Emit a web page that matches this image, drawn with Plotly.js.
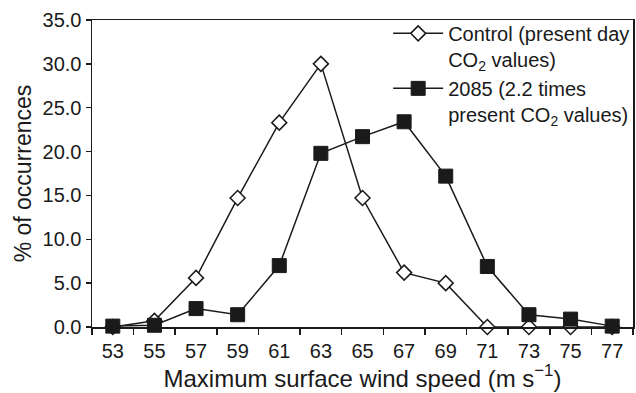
<!DOCTYPE html>
<html>
<head>
<meta charset="utf-8">
<script src="https://cdn.plot.ly/plotly-3.0.1.min.js"></script>
<style>html,body{margin:0;padding:0;background:#fff;}#chart{width:636px;height:393px;}</style>
</head>
<body>
<div id="chart"></div>
<script>
var windSpeed = [53, 55, 57, 59, 61, 63, 65, 67, 69, 71, 73, 75, 77];
var controlPct = [0.0, 0.7, 5.6, 14.7, 23.3, 30.0, 14.7, 6.2, 5.0, 0.0, 0.0, 0.0, 0.0];
var future2085Pct = [0.1, 0.2, 2.1, 1.4, 7.0, 19.8, 21.7, 23.4, 17.2, 6.9, 1.4, 0.9, 0.1];
var xTickVals = [53, 55, 57, 59, 61, 63, 65, 67, 69, 71, 73, 75, 77];
var yTickVals = [0, 5, 10, 15, 20, 25, 30, 35];

var fontFam = 'Liberation Sans, Arial, Helvetica, sans-serif';

var traces = [
  {
    x: windSpeed, y: controlPct, type: 'scatter', mode: 'lines+markers',
    name: 'Control (present day<br>CO<sub>2</sub> values)',
    line: {color: '#1a1a1a', width: 1.5},
    marker: {symbol: 'diamond', size: 11.5, color: '#ffffff', line: {color: '#1a1a1a', width: 1.5}},
    cliponaxis: false
  },
  {
    x: windSpeed, y: future2085Pct, type: 'scatter', mode: 'lines+markers',
    name: '2085 (2.2 times<br>present CO<sub>2</sub> values)',
    line: {color: '#1a1a1a', width: 1.5},
    marker: {symbol: 'square', size: 14, color: '#1a1a1a', line: {color: '#1a1a1a', width: 1}},
    cliponaxis: false
  }
];

var layout = {
  width: 636, height: 393,
  margin: {l: 92, r: 1, t: 20, b: 66},
  paper_bgcolor: '#ffffff', plot_bgcolor: '#ffffff',
  font: {family: fontFam, size: 19, color: '#1a1a1a'},
  showlegend: true,
  legend: {
    x: 1.004, xanchor: 'right', y: 1.02, yanchor: 'top',
    font: {family: fontFam, size: 20, color: '#1a1a1a'},
    bgcolor: 'rgba(255,255,255,0)', borderwidth: 0,
    valign: 'top', tracegroupgap: 3, itemwidth: 50
  },
  xaxis: {
    range: [52, 78],
    tickmode: 'array', tickvals: xTickVals, ticktext: xTickVals.map(String),
    ticks: 'outside', ticklen: 5, tickcolor: 'rgba(0,0,0,0)', showgrid: false, zeroline: false,
    showline: true, linecolor: '#1a1a1a', linewidth: 1.5, mirror: true,
    tickfont: {family: fontFam, size: 20, color: '#1a1a1a'},
    minor: {ticks: 'outside', tick0: 52, dtick: 2, ticklen: 6, tickwidth: 1.5, tickcolor: '#1a1a1a', showgrid: false},
    title: {text: 'Maximum surface wind speed (m s<sup>\u22121</sup>)', font: {family: fontFam, size: 24, color: '#1a1a1a'}, standoff: 3}
  },
  yaxis: {
    range: [0, 35],
    tickmode: 'array', tickvals: yTickVals, ticktext: yTickVals.map(function(v){return v.toFixed(1);}),
    ticks: 'outside', ticklen: 5, tickwidth: 1.5, tickcolor: '#1a1a1a',
    showgrid: false, zeroline: false,
    showline: true, linecolor: '#1a1a1a', linewidth: 1.5, mirror: true,
    tickfont: {family: fontFam, size: 20, color: '#1a1a1a'},
    title: {text: '% of occurrences', font: {family: fontFam, size: 23, color: '#1a1a1a'}, standoff: 4}
  }
};

Plotly.newPlot('chart', traces, layout, {staticPlot: true, displayModeBar: false});
</script>
</body>
</html>
